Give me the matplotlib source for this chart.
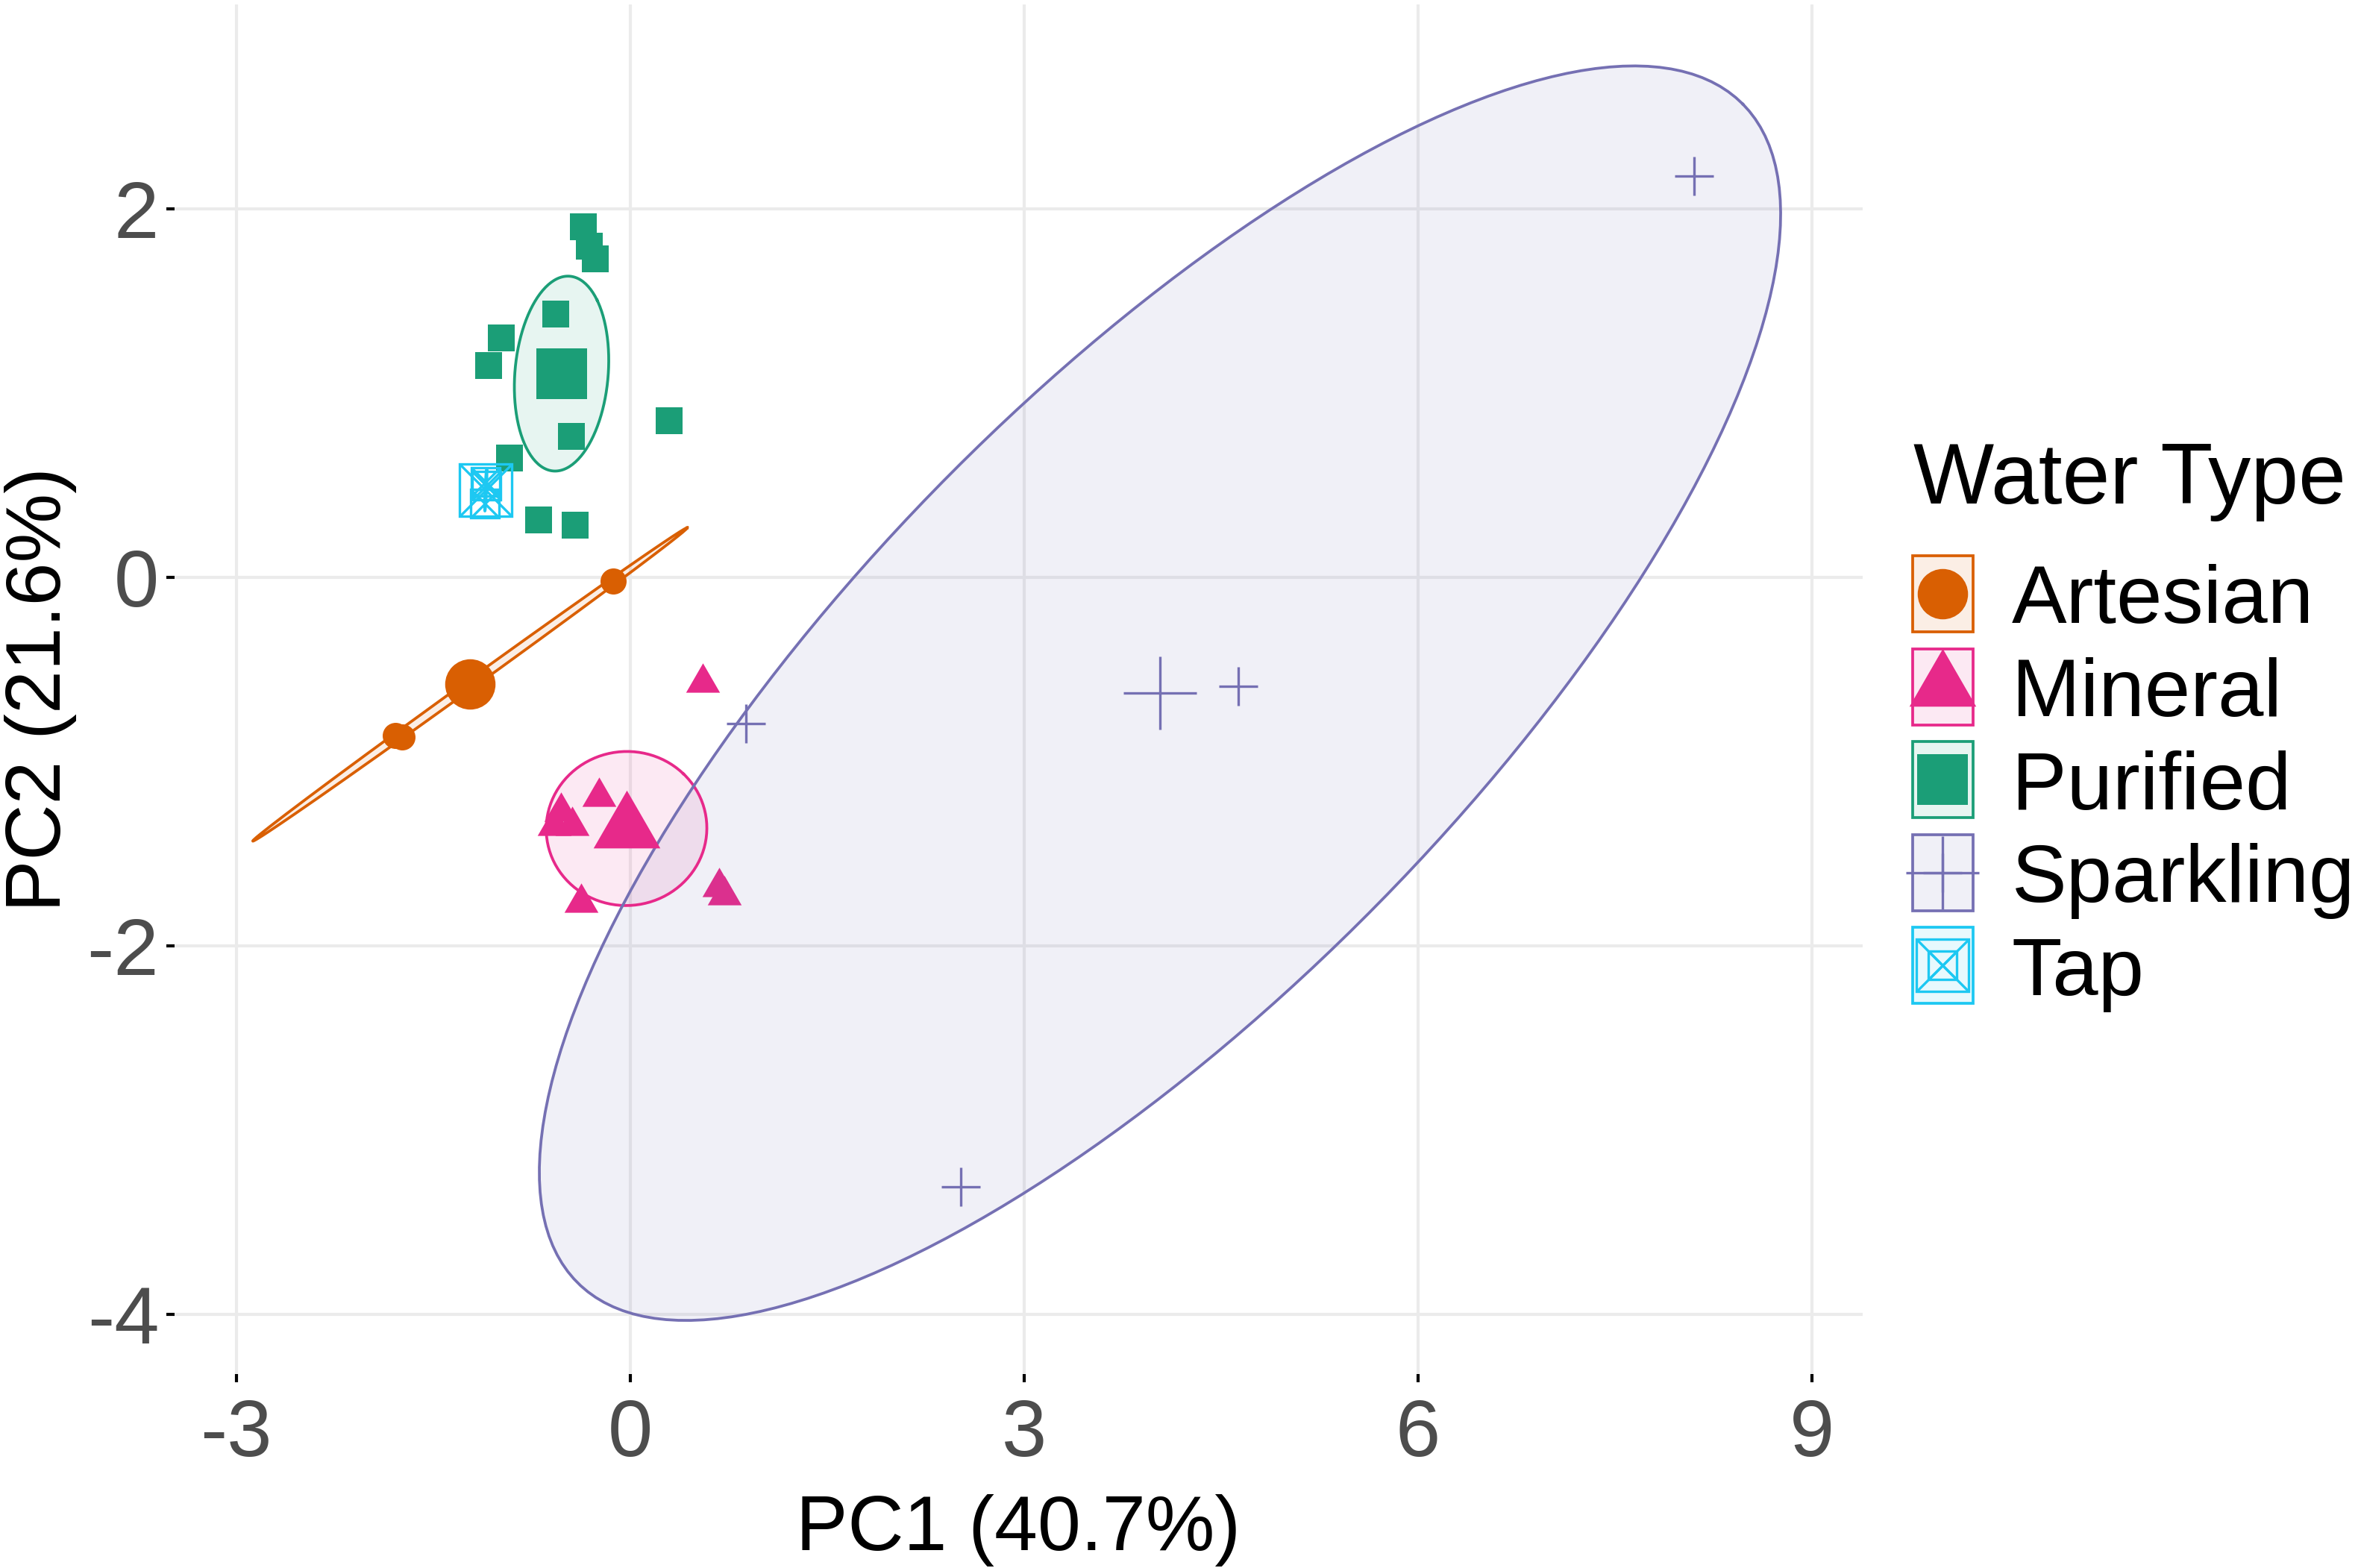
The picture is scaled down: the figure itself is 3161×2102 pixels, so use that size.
import numpy as np
import matplotlib
matplotlib.use('Agg')
import matplotlib.pyplot as plt
from matplotlib.patches import Rectangle

plt.rcParams['font.family'] = ['Liberation Sans', 'DejaVu Sans']
plt.rcParams['axes.unicode_minus'] = False

# groups and colours
groups = ['Artesian', 'Mineral', 'Purified', 'Sparkling', 'Tap']
colors = ['#D95F02', '#E7298A', '#1B9E77', '#7570B3', '#1DC8F2']

# PCA scores
artesian_pc1 = [-0.13, -1.79, -1.74]
artesian_pc2 = [-0.02, -0.857, -0.865]
mineral_pc1 = [0.55, -0.235, -0.53, -0.58, -0.445, -0.376, 0.676, 0.714]
mineral_pc2 = [-0.57, -1.19, -1.27, -1.35, -1.35, -1.766, -1.682, -1.726]
purified_pc1 = [-0.356, -0.313, -0.267, -0.568, -0.983, -1.081, 0.299, -0.447, -0.919, -0.699, -0.420]
purified_pc2 = [1.904, 1.798, 1.729, 1.431, 1.299, 1.152, 0.850, 0.767, 0.648, 0.313, 0.284]
sparkling_pc1 = [8.10, 4.632, 0.884, 2.52]
sparkling_pc2 = [2.181, -0.592, -0.792, -3.31]
tap_pc1 = [-1.10, -1.095, -1.105]
tap_pc2 = [0.52, 0.50, 0.40]

pc1 = [artesian_pc1, mineral_pc1, purified_pc1, sparkling_pc1, tap_pc1]
pc2 = [artesian_pc2, mineral_pc2, purified_pc2, sparkling_pc2, tap_pc2]

xticks = [-3, 0, 3, 6, 9]
yticks = [-4, -2, 0, 2]
xlim = (-3.47, 9.385)
ylim = (-4.325, 3.111)

# marker kind, small size, big size (points)
tri = [(0, 1), (-0.866, -0.5), (0.866, -0.5), (0, 1)]
shapes = [('o', 8.4, 16.2), (tri, 12.6, 24.8), ('s', 8.6, 16.3), ('+', 12.5, 23.5), ('sx', 9.3, 16.6)]


def conf_ellipse(x, y, level=0.99, npoint=200):
    # confidence ellipse of the group mean (cov / n), like stat_conf_ellipse
    x = np.asarray(x)
    y = np.asarray(y)
    n = len(x)
    cov = np.cov(x, y) / n
    sx, sy = np.sqrt(cov[0, 0]), np.sqrt(cov[1, 1])
    r = np.clip(cov[0, 1] / (sx * sy), -1, 1)
    t = np.sqrt(-2 * np.log(1 - level))
    a = np.linspace(0, 2 * np.pi, npoint)
    d = np.arccos(r)
    return x.mean() + t * sx * np.cos(a + d / 2), y.mean() + t * sy * np.cos(a - d / 2)


def draw_marker(ax, x, y, kind, ms, color, z, **kw):
    if kind == 'sx':
        ax.plot(x, y, ls='none', marker='s', ms=ms, mfc='none', mec=color, mew=0.8, zorder=z, **kw)
        ax.plot(x, y, ls='none', marker='x', ms=ms, mec=color, mew=0.8, zorder=z, **kw)
    elif kind == '+':
        ax.plot(x, y, ls='none', marker='+', ms=ms, mec=color, mew=0.8, zorder=z, **kw)
    else:
        ax.plot(x, y, ls='none', marker=kind, ms=ms, mfc=color, mew=0, zorder=z, **kw)


W, H = 3162, 2102
fig = plt.figure(figsize=(W / 300, H / 300), dpi=300)
ax = fig.add_axes([234 / W, 1 - 1842 / H, (2497 - 234) / W, (1842 - 6) / H])

for i, g in enumerate(groups):
    kind, small, big = shapes[i]
    draw_marker(ax, pc1[i], pc2[i], kind, small, colors[i], 3)
    ex, ey = conf_ellipse(pc1[i], pc2[i])
    ax.fill(ex, ey, color=colors[i], alpha=0.1, lw=0, zorder=4)
    ax.plot(ex, ey, color=colors[i], lw=0.9, zorder=5)
    draw_marker(ax, [np.mean(pc1[i])], [np.mean(pc2[i])], kind, big, colors[i], 6)

ax.set_xlim(xlim)
ax.set_ylim(ylim)
ax.set_xticks(xticks)
ax.set_yticks(yticks)
ax.set_xticklabels([str(v) for v in xticks])
ax.set_yticklabels([str(v) for v in yticks])
ax.grid(True, color='#EBEBEB', lw=1.0)
ax.set_axisbelow(True)
for s in ax.spines.values():
    s.set_visible(False)
ax.tick_params(length=2.6, width=1.0, color='black', labelsize=26, labelcolor='#4D4D4D')
ax.tick_params(axis='x', pad=5)
ax.tick_params(axis='y', pad=2.4)

fig.text(1365 / W, 1 - 2078 / H, 'PC1 (40.7%)', ha='center', va='baseline', fontsize=25)
fig.text(81 / W, 1 - 924 / H, 'PC2 (21.6%)', ha='center', va='baseline', rotation=90,
         rotation_mode='anchor', fontsize=25)

# legend drawn by hand in figure pixels
fig.text(2565 / W, 1 - 675 / H, 'Water Type', ha='left', va='baseline', fontsize=27.5)
key_left, key_w, key_h = 2564, 81, 102
for i, g in enumerate(groups):
    cy = 796 + i * 124.6
    box = (key_left / W, 1 - (cy + key_h / 2) / H)
    fig.add_artist(Rectangle(box, key_w / W, key_h / H, transform=fig.transFigure,
                             facecolor=colors[i], alpha=0.1, lw=0))
    fig.add_artist(Rectangle(box, key_w / W, key_h / H, transform=fig.transFigure,
                             facecolor='none', edgecolor=colors[i], lw=0.9))
    kind, small, big = shapes[i]
    cx = (key_left + key_w / 2) / W
    for ms in (big, small):
        draw_marker(ax, [cx], [1 - cy / H], kind, ms, colors[i], 10,
                    transform=fig.transFigure, clip_on=False)
    fig.text(2697 / W, 1 - (cy + 39.5) / H, g, ha='left', va='baseline', fontsize=26.5)

fig.savefig('out.png', dpi=300)
